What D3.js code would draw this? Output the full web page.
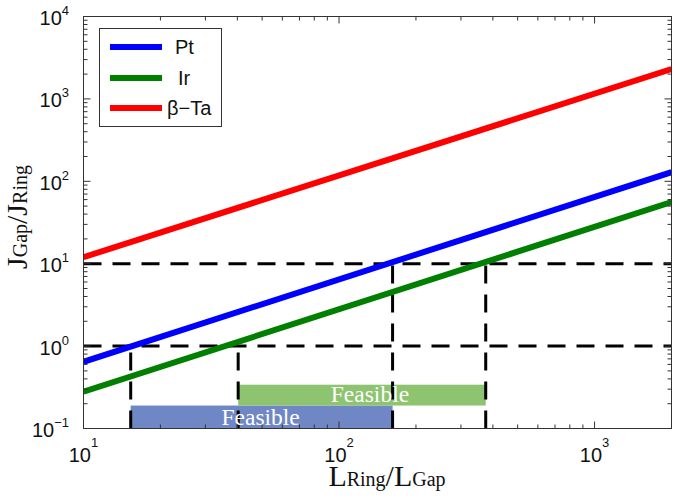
<!DOCTYPE html>
<html><head><meta charset="utf-8">
<script src="https://cdn.jsdelivr.net/npm/d3@7"></script>
<style>body{margin:0;background:#fff}svg{display:block}</style>
</head><body>
<svg id="c" width="675" height="501"></svg>
<script>
// ---- data ----
const xEnds = [10, 2000];
const ptValues = [0.645, 129];
const irValues = [0.28, 56];
const taValues = [12, 2300];
const seriesNames = ["Pt", "Ir", "\u03B2\u2212Ta"];
const hLevels = [1, 10];
const vX = [15.3, 40.3, 162, 375];
const vTop = [1, 1, 10, 10];
const blueBar = {x0: 15.3, x1: 162, y0: 0.1, y1: 0.19};
const greenBar = {x0: 40.3, x1: 375, y0: 0.19, y1: 0.34};
const barLabel = "Feasible";
const xDecades = [1, 2, 3];
const yDecades = [-1, 0, 1, 2, 3, 4];

const svg = d3.select("#c");
const L = 83.5, R = 671.5, T = 16.5, B = 428.5;
const x = d3.scaleLog().domain([10, 2000]).range([L, R]);
const y = d3.scaleLog().domain([0.1, 10000]).range([B, T]);
const colors = ["#0000ff", "#007f00", "#ff0000"];

const plot = svg.append("g");
plot.append("defs").append("clipPath").attr("id","clip").append("rect")
  .attr("x", L).attr("y", T).attr("width", R-L).attr("height", B-T);

// bars
[[blueBar, "#7087c6"], [greenBar, "#8ec46f"]].forEach(([b, col]) => {
  plot.append("rect").attr("x", x(b.x0)).attr("width", x(b.x1)-x(b.x0))
    .attr("y", y(b.y1)).attr("height", y(b.y0)-y(b.y1)).attr("fill", col);
});

// dashed lines
const dash = "18,11";
hLevels.forEach(v => {
  plot.append("line").attr("x1", x(10)).attr("x2", x(2000)).attr("y1", y(v)).attr("y2", y(v))
    .attr("stroke", "#000").attr("stroke-width", 3).attr("stroke-dasharray", dash);
});
vX.forEach((v, i) => {
  plot.append("line").attr("x1", x(v)).attr("x2", x(v)).attr("y1", y(0.1)).attr("y2", y(vTop[i]))
    .attr("stroke", "#000").attr("stroke-width", 3).attr("stroke-dasharray", dash);
});

// bar labels
[[blueBar, -1], [greenBar, 8]].forEach(([b, dx]) => {
  plot.append("text").attr("x", (x(b.x0)+x(b.x1))/2 + dx).attr("y", y(b.y0) - 4)
    .attr("text-anchor","middle").attr("fill","#fff")
    .attr("font-family","Liberation Serif, Times New Roman, serif").attr("font-size", 23.5)
    .text(barLabel);
});

// series lines
const line = d3.line().x(d => x(d[0])).y(d => y(d[1]));
[ptValues, irValues, taValues].forEach((vals, i) => {
  plot.append("path").attr("clip-path","url(#clip)")
    .datum(xEnds.map((xv, j) => [xv, vals[j]]))
    .attr("d", line).attr("fill","none").attr("stroke", colors[i]).attr("stroke-width", 6);
});

// axes box and ticks
const ax = svg.append("g").attr("stroke", "#333").attr("stroke-width", 1);
ax.append("rect").attr("x", L).attr("y", T).attr("width", R-L).attr("height", B-T).attr("fill","none");
function minorTicks(scale, lo, hi) {
  const out = [];
  for (let e = lo; e <= hi; e++) for (let m = 1; m <= 9; m++) {
    const v = m * Math.pow(10, e);
    const d = scale.domain();
    if (v >= d[0] - 1e-9 && v <= d[1] + 1e-9) out.push({v, major: m === 1});
  }
  return out;
}
minorTicks(x, 1, 3).forEach(t => {
  const len = t.major ? 7 : 4, px = x(t.v);
  ax.append("line").attr("x1", px).attr("x2", px).attr("y1", B).attr("y2", B - len);
  ax.append("line").attr("x1", px).attr("x2", px).attr("y1", T).attr("y2", T + len);
});
minorTicks(y, -1, 4).forEach(t => {
  const len = t.major ? 7 : 4, py = y(t.v);
  ax.append("line").attr("y1", py).attr("y2", py).attr("x1", L).attr("x2", L + len);
  ax.append("line").attr("y1", py).attr("y2", py).attr("x1", R).attr("x2", R - len);
});

// tick labels
const tf = "Liberation Sans, Arial, sans-serif";
function expLabel(t, e, raise) {
  t.append("tspan").text("10");
  t.append("tspan").attr("dy", -raise).attr("font-size", 13).text(e < 0 ? "\u2212" + (-e) : e);
}
xDecades.forEach(e => {
  const t = svg.append("text").attr("x", x(Math.pow(10, e))).attr("y", 462)
    .attr("text-anchor","middle").attr("font-family", tf).attr("font-size", 20).attr("fill","#111");
  expLabel(t, e, 15);
});
yDecades.forEach(e => {
  const t = svg.append("text").attr("x", 69).attr("y", y(Math.pow(10, e)) + 8.5)
    .attr("text-anchor","end").attr("font-family", tf).attr("font-size", 20).attr("fill","#111");
  expLabel(t, e, 10);
});

// axis labels
const sf = "Liberation Serif, Times New Roman, serif";
function subLabel(sel, parts) {
  parts.forEach(([txt, sub]) => {
    sel.append("tspan").attr("font-size", sub ? 20 : 30).text(txt);
  });
}
const xl = svg.append("text").attr("x", 387).attr("y", 486).attr("text-anchor","middle")
  .attr("font-family", sf).attr("fill","#111");
subLabel(xl, [["L",0],["Ring",1],["/",0],["L",0],["Gap",1]]);
const yl = svg.append("text").attr("transform","translate(27,217) rotate(-90)").attr("text-anchor","middle")
  .attr("font-family", sf).attr("fill","#111");
subLabel(yl, [["J",0],["Gap",1],["/",0],["J",0],["Ring",1]]);

// legend
const lg = svg.append("g");
lg.append("rect").attr("x", 99.5).attr("y", 28.5).attr("width", 122).attr("height", 98)
  .attr("fill","#fff").attr("stroke","#333");
const ly = [47, 78, 108];
const lx = [175, 178, 167];
seriesNames.forEach((n, i) => {
  lg.append("line").attr("x1", 110).attr("x2", 162).attr("y1", ly[i]).attr("y2", ly[i])
    .attr("stroke", colors[i]).attr("stroke-width", 6);
  lg.append("text").attr("x", lx[i]).attr("y", ly[i] + 7).attr("font-family", tf)
    .attr("font-size", 20).attr("fill","#111").text(n);
});
</script>
</body></html>
